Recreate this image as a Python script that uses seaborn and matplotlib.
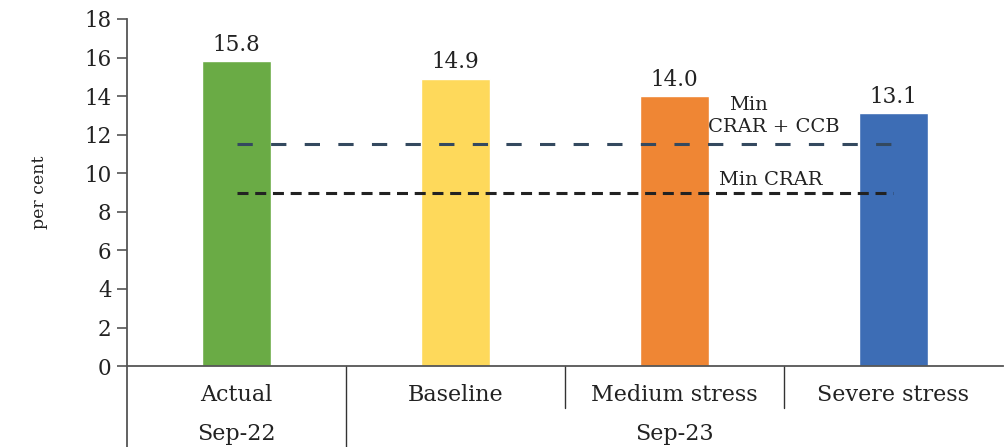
import matplotlib
matplotlib.use("Agg")
import matplotlib.pyplot as plt
import matplotlib.transforms as mtransforms
import seaborn as sns
import pandas as pd

# Capital adequacy (CRAR) projections
scenarios = ["Actual", "Baseline", "Medium stress", "Severe stress"]
periods = ["Sep-22", "Sep-23"]
period_span = [1, 3]  # number of scenarios under each period
crar = [15.8, 14.9, 14.0, 13.1]
min_crar_ccb = 11.5
min_crar = 9.0
bar_colors = ["#6AAB45", "#FED95B", "#EF8634", "#3D6DB5"]
y_ticks = list(range(0, 19, 2))

sns.set_theme(style="white")
plt.rcParams["font.family"] = ["DejaVu Serif"]

fig = plt.figure(figsize=(10.08, 4.47), dpi=100)
ax = fig.add_axes([0.126, 0.181, 0.869, 0.7765])

df = pd.DataFrame({"scenario": scenarios, "crar": crar})
sns.barplot(data=df, x="scenario", y="crar", hue="scenario",
            palette=bar_colors, width=0.315, legend=False, ax=ax,
            saturation=1)

for cont in ax.containers:
    ax.bar_label(cont, fmt="%.1f", padding=4, fontsize=15.5, color="#222222")

# Regulatory minimum lines
x0, x1 = 0, 3
ax.plot([x0, x1], [min_crar_ccb, min_crar_ccb], ls=(0, (5, 6)),
        color="#34495F", lw=2.2)
ax.plot([x0, x1], [min_crar, min_crar], ls=(0, (3.6, 2.2)),
        color="#222222", lw=2.2)
ax.text(2.336, 13.55, "Min", ha="center", va="center",
        fontsize=14, color="#222222")
ax.text(2.454, 12.4, "CRAR + CCB", ha="center", va="center",
        fontsize=14, color="#222222")
ax.text(2.44, 9.65, "Min CRAR", ha="center", va="center",
        fontsize=14, color="#222222")

ax.set_xlim(-0.5, 3.5)
ax.set_ylim(0, 18)
ax.set_yticks(y_ticks)
ax.set_yticklabels([str(t) for t in y_ticks], fontsize=15.5, color="#222222")
ax.set_ylabel("per cent", fontsize=12.5, color="#222222", labelpad=26)
ax.set_xlabel("")
ax.set_xticks([])

for side in ["top", "right"]:
    ax.spines[side].set_visible(False)
for side in ["left", "bottom"]:
    ax.spines[side].set_color("#555555")
    ax.spines[side].set_linewidth(1.3)
ax.tick_params(axis="y", direction="out", length=7, width=1.2,
               color="#555555", left=True, pad=4)

# Two-level category axis below the plot
trans = mtransforms.blended_transform_factory(ax.transData, ax.transAxes)
ax.plot([-0.5, -0.5], [0, -0.24], transform=trans, color="#555555",
        lw=1.3, clip_on=False)
for i, name in enumerate(scenarios):
    ax.text(i, -0.083, name, transform=trans, ha="center", va="center",
            fontsize=16, color="#222222")
edge = -0.5
for p, span in zip(periods, period_span):
    ax.text(edge + span / 2, -0.195, p, transform=trans, ha="center",
            va="center", fontsize=16, color="#222222")
    edge += span
    if edge < 3.5:
        ax.plot([edge, edge], [0, -0.24], transform=trans, color="#333333",
                lw=1.0, clip_on=False)
for b in [1.5, 2.5]:
    ax.plot([b, b], [0, -0.12], transform=trans, color="#333333",
            lw=1.0, clip_on=False)

fig.savefig("out.png", dpi=100)
